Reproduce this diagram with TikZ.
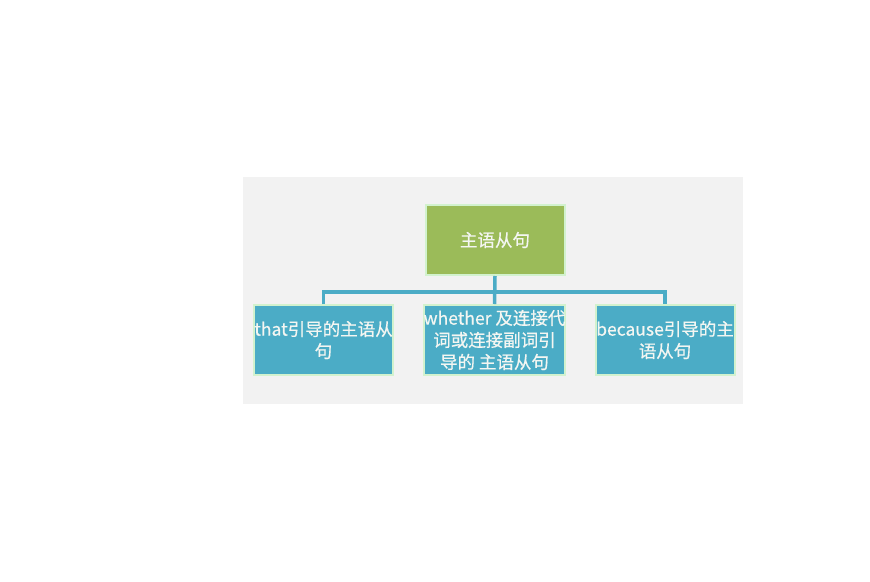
\documentclass[tikz,border=0pt]{standalone}
\usepackage{fontspec}
\setmainfont{Noto Sans CJK SC}
\newfontfamily\boxfont[FakeBold=0.5]{Noto Sans CJK SC}
\usepackage{xcolor}
\usetikzlibrary{positioning,calc}
\definecolor{rootgreen}{HTML}{9BBB59}
\definecolor{leafblue}{HTML}{4BACC6}
\definecolor{edgemint}{HTML}{D2F2CE}
\definecolor{panelgray}{HTML}{F2F2F2}
\definecolor{textwhite}{HTML}{F4F6F2}

\begin{document}
\begin{tikzpicture}[x=1pt,y=-1pt,
    box/.style={draw=edgemint, line width=2pt, minimum width=139pt, minimum height=70pt,
        text=textwhite, align=center, inner sep=0pt,
        font=\boxfont\fontsize{17.5}{22}\selectfont},
    rootbox/.style={box, fill=rootgreen},
    leafbox/.style={box, fill=leafblue},
    link/.style={leafblue, line width=3.5pt}]
    \useasboundingbox (0,0) rectangle (870,581);
    \fill[panelgray] (243,177) rectangle (743,404);
    \node[rootbox] (root) at (495,240) {主语从句};
    \node[leafbox] (that) at (323.5,340) {that引导的主语从\\句};
    \node[leafbox] (whether) at (494.5,340) {whether 及连接代\\词或连接副词引\\导的 主语从句};
    \node[leafbox] (because) at (665,340) {because引导的主\\语从句};
    \coordinate (bus) at (495,292);
    \draw[link] (root.south) -- (whether.north);
    \draw[link] (that.north) |- (bus) -| (because.north);
\end{tikzpicture}
\end{document}
